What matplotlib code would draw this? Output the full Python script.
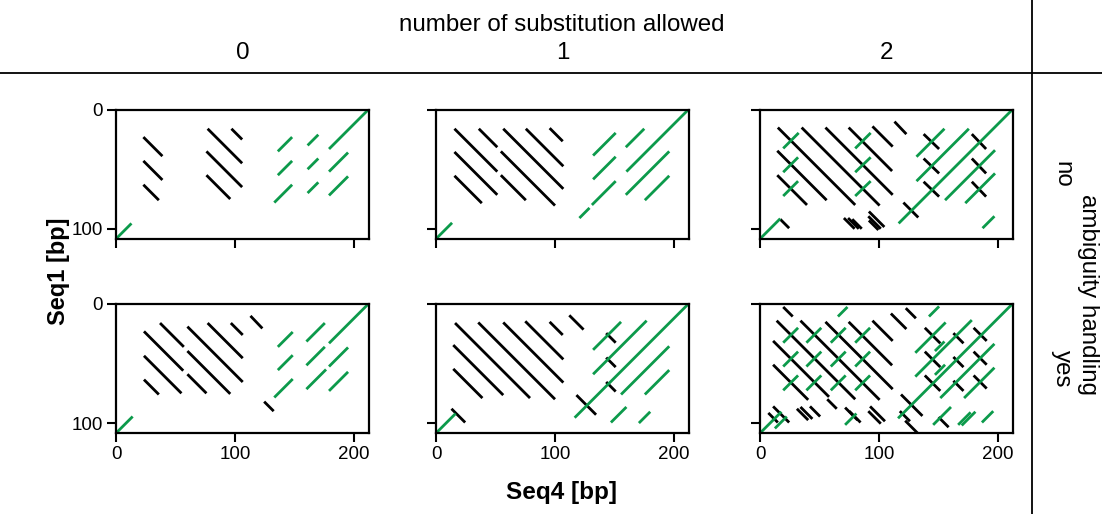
import matplotlib
matplotlib.use('Agg')
import matplotlib.pyplot as plt
from matplotlib.lines import Line2D

plt.rcParams['font.family'] = ['Liberation Sans', 'DejaVu Sans']

# ---------------- data ----------------
SEQ4_LEN = 212.6
SEQ1_LEN = 108.6
col_labels = ['0', '1', '2']
row_labels = ['no', 'yes']
x_ticks = [0, 100, 200]
y_ticks = [0, 100]

# segments: (x_start, y_start, x_end, y_end) in bp
# black = forward matches, green = reverse-complement matches
fwd_no_0 = [(23, 23, 39, 39), (23, 43, 39, 59), (23, 63, 36, 76),
            (77, 16, 106, 45), (97, 16, 106, 25), (76, 35, 106, 65),
            (76, 55, 96, 75)]
rev_no_0 = [(136, 35, 148, 23), (136, 55, 148, 43), (133, 78, 148, 63),
            (161, 30, 170, 21), (161, 50, 170, 41), (161, 70, 170, 61),
            (179, 33, 212, 0), (179, 52, 195, 36), (179, 72, 195, 56),
            (0, 108.5, 13, 95.5)]

fwd_no_1 = [(15.5, 16, 51.5, 52), (54.5, 55, 75.5, 76), (36, 16, 51.5, 31.5),
            (54.5, 35, 100, 80.5), (56.5, 16, 107, 66.5), (75.5, 16, 107, 47.5),
            (95.5, 15.5, 106.5, 26.5), (15.5, 35.5, 51.5, 71.5),
            (15.5, 55.5, 38.5, 78.5)]
rev_no_1 = [(132, 38.5, 151, 19.5), (132, 58.5, 151, 39.5), (120.5, 91, 129, 82.5),
            (131, 80, 151, 60), (159.5, 31.5, 175, 16), (160, 52, 212, 0),
            (159.5, 71.5, 196, 35), (175.5, 76, 196, 55.5), (0, 108.5, 13.5, 95)]

fwd_no_2 = [(15, 15, 80, 80), (35, 15, 100.5, 80.5), (55, 15, 111.5, 71.5),
            (74.5, 15, 111, 51.5), (94.5, 14, 111.5, 31), (113, 10, 123, 20.5),
            (14.5, 34.5, 56, 76), (14.5, 55, 39.5, 80), (17, 92, 24.5, 99.5),
            (70.5, 91, 79.5, 100), (74, 91, 83, 100), (77.5, 92, 85.5, 100),
            (91.5, 85.5, 104.5, 98.5), (91, 89.5, 101.5, 100), (91.5, 93, 99.5, 101)
            , (137.5, 20.5, 150.5, 33), (137.5, 41, 150.5, 53.5), (137.5, 60.5, 150.5, 73),
            (178, 20.5, 190, 33), (178, 41, 190, 53.5), (178, 60.5, 190, 73),
            (120.5, 78, 133, 90.5)]
rev_no_2 = [(19.5, 32.5, 32.5, 19.5), (19.5, 52.5, 32, 40), (19.5, 72.5, 32, 60),
            (80, 32.5, 93, 19.5), (80, 52.5, 93, 40), (80, 72.5, 93, 60),
            (131.5, 39.5, 155, 16), (131.5, 60, 175.5, 16), (116.5, 95.5, 212, 0),
            (155.5, 76, 197.5, 34), (172.5, 78.5, 197.5, 53.5), (187, 99.5, 197, 89.5),
            (0, 108.5, 17, 91.5)]

fwd_yes_0 = [(23.5, 23, 56.5, 56), (37, 16, 57, 36), (60, 19, 106.5, 65.5),
             (77, 16, 106.5, 45.5), (96.5, 16, 106.5, 26), (113, 10, 123, 20.5),
             (23.5, 43.5, 55, 75), (60, 39.5, 96, 75.5), (23.5, 63.5, 36, 76),
             (60, 59, 76, 75), (124.5, 82, 132.5, 90)]
rev_yes_0 = [(136, 36, 148.5, 23.5), (136, 55.5, 148.5, 43), (133, 78.5, 148.5, 63),
             (160, 31.5, 175.5, 16), (160, 51.5, 175.5, 36), (160, 71.5, 176.5, 55),
             (179, 33, 212, 0), (179, 52.5, 195, 36.5), (179, 73, 195, 57),
             (0, 108.5, 14, 94.5)]

fwd_yes_1 = [(16, 16, 79, 79), (35.5, 15.5, 100, 80), (56.5, 15.5, 107, 66),
             (75, 14.5, 107, 46.5), (95.5, 15, 106.5, 26), (112, 9.5, 124, 21.5),
             (14.5, 34.5, 56.5, 76.5), (14.5, 54.5, 39, 79), (13, 88, 24.5, 99.5),
             (143, 24.5, 151, 32.5), (143, 45, 151, 53), (143, 65.5, 151, 73.5),
             (118, 76.5, 134.5, 93)]
rev_yes_1 = [(132, 38.5, 155.5, 15), (132, 59, 177, 14), (116.5, 95.5, 212, 0),
             (155.5, 76, 196, 35.5), (175.5, 76, 196, 55.5), (147, 99.5, 160, 86.5),
             (170.5, 100, 180, 90.5), (0, 108.5, 16.5, 92)]

fwd_yes_2 = [(19.5, 2.5, 27.5, 10.5), (14, 14, 80, 80), (34, 14, 100.5, 80.5),
             (55, 15, 111.5, 71.5), (74.5, 15, 111, 51.5), (94.5, 14, 111.5, 31),
             (110, 8, 123, 21), (122.5, 3.5, 131, 12), (11, 31, 58, 78),
             (56.5, 80, 64.5, 88), (11, 51, 40.5, 80.5),
             (7, 91.5, 15, 99.5), (11, 86, 24.5, 99.5), (31, 88, 40.5, 97.5),
             (34, 86.5, 44, 96.5), (42, 86, 50.5, 94.5), (71.5, 87, 82, 97.5),
             (75, 90, 84.5, 99.5), (92.5, 86, 105, 98.5), (91, 90, 101.5, 100.5),
             (138.5, 20, 151.5, 33), (138.5, 40, 151.5, 53), (138.5, 60, 151.5, 73),
             (162.5, 24.5, 171, 33), (162.5, 44.5, 171, 53), (162.5, 64.5, 171, 73),
             (179.5, 20, 190.5, 31), (179.5, 40, 190.5, 51), (179.5, 60, 190.5, 71),
             (118.5, 76, 136.5, 94), (117.5, 90, 126, 98.5), (122, 98, 132.5, 108.5),
             (150, 95, 158.5, 103.5)]
rev_yes_2 = [(65.5, 10.5, 73.5, 2.5),
             (19.5, 32.5, 32, 20), (39, 32.5, 51.5, 20), (59.5, 32.5, 72, 20), (80, 32.5, 92.5, 20),
             (19.5, 52.5, 32, 40), (39, 52.5, 51.5, 40), (59.5, 52.5, 72, 40), (80, 52.5, 92.5, 40),
             (19.5, 72.5, 32, 60), (39, 72.5, 51.5, 60), (59.5, 72.5, 72, 60), (80, 72.5, 92.5, 60),
             (142, 10.5, 150.5, 2), (130.5, 41, 156, 15.5), (147, 39.5, 155, 31.5),
             (130.5, 61, 178, 13.5), (147, 59.5, 155.5, 51), (116, 96, 212, 0),
             (151.5, 79, 197, 33.5), (171.5, 79, 197, 53.5), (145.5, 101.5, 160.5, 86.5),
             (166.5, 101.5, 177, 91), (169.5, 102, 181, 90.5), (186.5, 99.5, 196, 90),
             (0, 108.5, 18, 90.5), (12.5, 104.5, 22.5, 94.5), (71.5, 101.5, 81, 92)]

panels = [[(fwd_no_0, rev_no_0), (fwd_no_1, rev_no_1), (fwd_no_2, rev_no_2)],
          [(fwd_yes_0, rev_yes_0), (fwd_yes_1, rev_yes_1), (fwd_yes_2, rev_yes_2)]]

# ---------------- figure ----------------
W, H = 1102, 514
fig = plt.figure(figsize=(W / 100, H / 100), dpi=100)

GREEN = '#0c9a4b'
col_left_px = [116, 436, 760]
row_top_px = [109.7, 304]
ax_w_px, ax_h_px = 253, 129.3

for r in range(2):
    for c in range(3):
        left = col_left_px[c] / W
        bottom = 1 - (row_top_px[r] + ax_h_px) / H
        ax = fig.add_axes([left, bottom, ax_w_px / W, ax_h_px / H])
        fwd, rev = panels[r][c]
        for (x1, y1, x2, y2) in fwd:
            ax.plot([x1, x2], [y1, y2], color='black', lw=2.0,
                    solid_capstyle='butt')
        for (x1, y1, x2, y2) in rev:
            ax.plot([x1, x2], [y1, y2], color=GREEN, lw=2.0,
                    solid_capstyle='butt')
        ax.set_xlim(0, SEQ4_LEN)
        ax.set_ylim(SEQ1_LEN, 0)
        ax.set_xticks(x_ticks)
        ax.set_yticks(y_ticks)
        ax.tick_params(direction='out', length=6.5, width=1.5,
                       labelsize=13.5, pad=3)
        if r == 0:
            ax.set_xticklabels([])
        if c != 0:
            ax.set_yticklabels([])
        for s in ax.spines.values():
            s.set_linewidth(1.6)

# header / labels
fig.text(562 / W, 1 - 25 / H, 'number of substitution allowed', ha='center',
         va='center', fontsize=17.4)
for c in range(3):
    fig.text((col_left_px[c] + ax_w_px / 2) / W, 1 - 53 / H, col_labels[c],
             ha='center', va='center', fontsize=17.4)
fig.add_artist(Line2D([0, 1], [1 - 73 / H, 1 - 73 / H], transform=fig.transFigure,
                      color='black', lw=1.3))
fig.add_artist(Line2D([1032 / W, 1032 / W], [0, 1], transform=fig.transFigure,
                      color='black', lw=1.3))

for r in range(2):
    fig.text(1062 / W, 1 - (row_top_px[r] + ax_h_px / 2) / H, row_labels[r],
             ha='center', va='center', rotation=270, fontsize=17.4)
fig.text(1088 / W, 1 - 295 / H, 'ambiguity handling', ha='center', va='center',
         rotation=270, fontsize=17.4)

fig.text(59 / W, 1 - 271 / H, 'Seq1 [bp]', ha='center', va='center',
         rotation=90, fontsize=17, fontweight='bold')
fig.text(562 / W, 1 - 493 / H, 'Seq4 [bp]', ha='center', va='center',
         fontsize=17.5, fontweight='bold')

fig.savefig('out.png', dpi=100)
